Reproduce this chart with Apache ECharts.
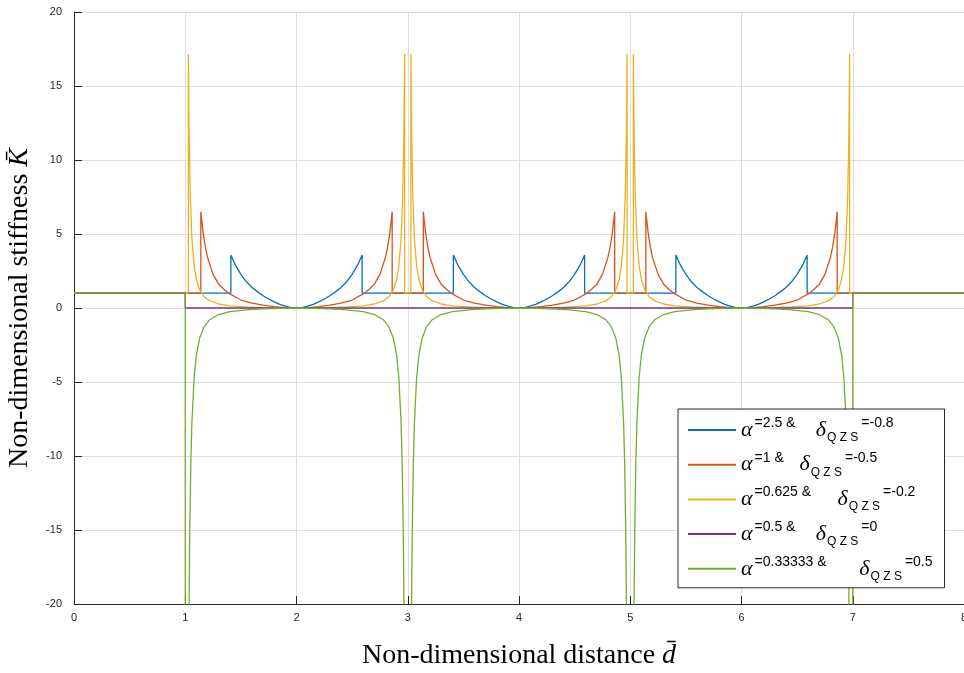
<!DOCTYPE html>
<html>
<head>
<meta charset="utf-8">
<script src="https://cdn.jsdelivr.net/npm/echarts@6/dist/echarts.min.js"></script>
<style>
html,body{margin:0;padding:0;background:#fff;overflow:hidden;}
#chart{width:964px;height:673px;}
</style>
</head>
<body>
<div id="chart"></div>
<script>
// ---- data ----
const alphaLabels = ['2.5', '1', '0.625', '0.5', '0.33333'];
const deltaLabels = ['-0.8', '-0.5', '-0.2', '0', '0.5'];

const blueK = [[0,1],[1,1],[1.41,1],
[1.41,3.58],[1.45,2.91],[1.5,2.27],[1.55,1.77],[1.6,1.39],[1.65,1.09],[1.7,0.83],[1.75,0.61],[1.8,0.41],[1.85,0.25],[1.9,0.12],[1.95,0.03],[2,0],[2.05,0.03],[2.1,0.12],[2.15,0.25],[2.2,0.41],[2.25,0.61],[2.3,0.83],[2.35,1.09],[2.4,1.39],[2.45,1.77],[2.5,2.27],[2.55,2.91],[2.59,3.58],[2.59,1],[3.41,1],
[3.41,3.58],[3.45,2.91],[3.5,2.27],[3.55,1.77],[3.6,1.39],[3.65,1.09],[3.7,0.83],[3.75,0.61],[3.8,0.41],[3.85,0.25],[3.9,0.12],[3.95,0.03],[4,0],[4.05,0.03],[4.1,0.12],[4.15,0.25],[4.2,0.41],[4.25,0.61],[4.3,0.83],[4.35,1.09],[4.4,1.39],[4.45,1.77],[4.5,2.27],[4.55,2.91],[4.59,3.58],[4.59,1],[5.41,1],
[5.41,3.58],[5.45,2.91],[5.5,2.27],[5.55,1.77],[5.6,1.39],[5.65,1.09],[5.7,0.83],[5.75,0.61],[5.8,0.41],[5.85,0.25],[5.9,0.12],[5.95,0.03],[6,0],[6.05,0.03],[6.1,0.12],[6.15,0.25],[6.2,0.41],[6.25,0.61],[6.3,0.83],[6.35,1.09],[6.4,1.39],[6.45,1.77],[6.5,2.27],[6.55,2.91],[6.59,3.58],[6.59,1],[7,1],[8,1]];

const redK = [[0,1],[1,1],[1.14,1],
[1.14,6.5],[1.16,5.13],[1.18,4.15],[1.2,3.43],[1.25,2.27],[1.3,1.61],[1.35,1.25],[1.4,0.95],[1.5,0.54],[1.6,0.33],[1.7,0.2],[1.8,0.09],[1.9,0.03],[2,0],[2.1,0.03],[2.2,0.09],[2.3,0.2],[2.4,0.33],[2.5,0.54],[2.6,0.95],[2.65,1.25],[2.7,1.61],[2.75,2.27],[2.8,3.43],[2.82,4.15],[2.84,5.13],[2.86,6.5],[2.86,1],[3.14,1],
[3.14,6.5],[3.16,5.13],[3.18,4.15],[3.2,3.43],[3.25,2.27],[3.3,1.61],[3.35,1.25],[3.4,0.95],[3.5,0.54],[3.6,0.33],[3.7,0.2],[3.8,0.09],[3.9,0.03],[4,0],[4.1,0.03],[4.2,0.09],[4.3,0.2],[4.4,0.33],[4.5,0.54],[4.6,0.95],[4.65,1.25],[4.7,1.61],[4.75,2.27],[4.8,3.43],[4.82,4.15],[4.84,5.13],[4.86,6.5],[4.86,1],[5.14,1],
[5.14,6.5],[5.16,5.13],[5.18,4.15],[5.2,3.43],[5.25,2.27],[5.3,1.61],[5.35,1.25],[5.4,0.95],[5.5,0.54],[5.6,0.33],[5.7,0.2],[5.8,0.09],[5.9,0.03],[6,0],[6.1,0.03],[6.2,0.09],[6.3,0.2],[6.4,0.33],[6.5,0.54],[6.6,0.95],[6.65,1.25],[6.7,1.61],[6.75,2.27],[6.8,3.43],[6.82,4.15],[6.84,5.13],[6.86,6.5],[6.86,1],[7,1],[8,1]];

const yellowK = [[0,1],[1,1],[1.028,1],
[1.028,17.16],[1.035,11.73],[1.045,7.64],[1.06,4.66],[1.08,2.84],[1.1,1.93],[1.13,1.22],[1.17,0.76],[1.22,0.48],[1.3,0.27],[1.4,0.15],[1.55,0.07],[1.7,0.03],[1.85,0.01],[2,0],[2.15,0.01],[2.3,0.03],[2.45,0.07],[2.6,0.15],[2.7,0.27],[2.78,0.48],[2.83,0.76],[2.87,1.22],[2.9,1.93],[2.92,2.84],[2.94,4.66],[2.955,7.64],[2.965,11.73],[2.972,17.16],[2.972,1],[3.028,1],
[3.028,17.16],[3.035,11.73],[3.045,7.64],[3.06,4.66],[3.08,2.84],[3.1,1.93],[3.13,1.22],[3.17,0.76],[3.22,0.48],[3.3,0.27],[3.4,0.15],[3.55,0.07],[3.7,0.03],[3.85,0.01],[4,0],[4.15,0.01],[4.3,0.03],[4.45,0.07],[4.6,0.15],[4.7,0.27],[4.78,0.48],[4.83,0.76],[4.87,1.22],[4.9,1.93],[4.92,2.84],[4.94,4.66],[4.955,7.64],[4.965,11.73],[4.972,17.16],[4.972,1],[5.028,1],
[5.028,17.16],[5.035,11.73],[5.045,7.64],[5.06,4.66],[5.08,2.84],[5.1,1.93],[5.13,1.22],[5.17,0.76],[5.22,0.48],[5.3,0.27],[5.4,0.15],[5.55,0.07],[5.7,0.03],[5.85,0.01],[6,0],[6.15,0.01],[6.3,0.03],[6.45,0.07],[6.6,0.15],[6.7,0.27],[6.78,0.48],[6.83,0.76],[6.87,1.22],[6.9,1.93],[6.92,2.84],[6.94,4.66],[6.955,7.64],[6.965,11.73],[6.972,17.16],[6.972,1],[7,1],[8,1]];

const purpleK = [[0,1],[1,1],[1,0],[7,0],[7,1],[8,1]];

const greenK = [[0,1],[1,1],[1,-100],
[1.03,-25.2],[1.035,-19.34],[1.04,-15.4],[1.05,-10.52],[1.06,-7.7],[1.08,-4.7],[1.1,-3.19],[1.13,-2.02],[1.17,-1.26],[1.22,-0.79],[1.3,-0.44],[1.4,-0.24],[1.55,-0.12],[1.7,-0.05],[1.85,-0.02],[2,0],[2.15,-0.02],[2.3,-0.05],[2.45,-0.12],[2.6,-0.24],[2.7,-0.44],[2.78,-0.79],[2.83,-1.26],[2.87,-2.02],[2.9,-3.19],[2.92,-4.7],[2.94,-7.7],[2.95,-10.52],[2.96,-15.4],[2.965,-19.34],[2.97,-25.2],
[3.03,-25.2],[3.035,-19.34],[3.04,-15.4],[3.05,-10.52],[3.06,-7.7],[3.08,-4.7],[3.1,-3.19],[3.13,-2.02],[3.17,-1.26],[3.22,-0.79],[3.3,-0.44],[3.4,-0.24],[3.55,-0.12],[3.7,-0.05],[3.85,-0.02],[4,0],[4.15,-0.02],[4.3,-0.05],[4.45,-0.12],[4.6,-0.24],[4.7,-0.44],[4.78,-0.79],[4.83,-1.26],[4.87,-2.02],[4.9,-3.19],[4.92,-4.7],[4.94,-7.7],[4.95,-10.52],[4.96,-15.4],[4.965,-19.34],[4.97,-25.2],
[5.03,-25.2],[5.035,-19.34],[5.04,-15.4],[5.05,-10.52],[5.06,-7.7],[5.08,-4.7],[5.1,-3.19],[5.13,-2.02],[5.17,-1.26],[5.22,-0.79],[5.3,-0.44],[5.4,-0.24],[5.55,-0.12],[5.7,-0.05],[5.85,-0.02],[6,0],[6.15,-0.02],[6.3,-0.05],[6.45,-0.12],[6.6,-0.24],[6.7,-0.44],[6.78,-0.79],[6.83,-1.26],[6.87,-2.02],[6.9,-3.19],[6.92,-4.7],[6.94,-7.7],[6.95,-10.52],[6.96,-15.4],[6.965,-19.34],[6.97,-25.2],[7,-100],[7,1],[8,1]];

const xTicks = [0, 1, 2, 3, 4, 5, 6, 7, 8];
const yTicks = [-20, -15, -10, -5, 0, 5, 10, 15, 20];

// ---- chart ----
const seriesData = [blueK, redK, yellowK, purpleK, greenK];
const colors = ['#0072BD', '#D95319', '#EDB120', '#7E2F8E', '#77AC30'];
const names = alphaLabels.map((a, i) => 'α=' + a + ' & δQZS=' + deltaLabels[i]);

const chart = echarts.init(document.getElementById('chart'), null, {renderer: 'canvas', width: 964, height: 673});

const axisTxt = {color: '#262626', fontSize: 11, fontFamily: 'Liberation Sans, Arial, sans-serif'};
const serif = 'Liberation Serif, Times New Roman, serif';

const option = {
  animation: false,
  backgroundColor: '#ffffff',
  color: colors,
  grid: {left: 74, top: 12, right: 0, bottom: 69, containLabel: false, outerBoundsMode: 'none'},
  xAxis: {
    type: 'value', min: xTicks[0], max: xTicks[xTicks.length - 1], interval: 1,
    name: '{t|Non-dimensional distance }{v|d̄}',
    nameLocation: 'middle', nameGap: 38,
    nameTextStyle: {rich: {
      t: {fontFamily: serif, fontSize: 28, color: '#000'},
      v: {fontFamily: serif, fontSize: 28, fontStyle: 'italic', color: '#000'}
    }},
    axisLine: {show: true, onZero: false, lineStyle: {color: '#262626', width: 1}},
    axisTick: {show: true, inside: true, length: 8, lineStyle: {color: '#262626'}},
    axisLabel: Object.assign({margin: 8}, axisTxt),
    splitLine: {show: true, lineStyle: {color: '#dedede', width: 1}}
  },
  yAxis: {
    type: 'value', min: yTicks[0], max: yTicks[yTicks.length - 1], interval: 5,
    name: '{t|Non-dimensional stiffness }{v|K̄}',
    nameLocation: 'middle', nameGap: 40,
    nameTextStyle: {rich: {
      t: {fontFamily: serif, fontSize: 28, color: '#000'},
      v: {fontFamily: serif, fontSize: 28, fontStyle: 'italic', color: '#000'}
    }},
    axisLine: {show: true, onZero: false, lineStyle: {color: '#262626', width: 1}},
    axisTick: {show: true, inside: true, length: 8, lineStyle: {color: '#262626'}},
    axisLabel: Object.assign({margin: 12}, axisTxt),
    splitLine: {show: true, lineStyle: {color: '#dedede', width: 1}}
  },
  legend: {
    orient: 'vertical', left: 678, top: 409,
    padding: [7, 12, 5, 10],
    backgroundColor: '#ffffff', borderColor: '#262626', borderWidth: 1,
    itemWidth: 48, itemHeight: 2, itemGap: 6.7, icon: 'rect',
    data: names,
    formatter: function (name) {
      const i = names.indexOf(name);
      const a = alphaLabels[i], d = deltaLabels[i];
      return '{a|α}{sp|=' + a + ' &}{g|=' + a + ' &}{d|δ}{sb|Q Z S}{sp2|=' + d + '}';
    },
    textStyle: {
      rich: {
        a: {fontFamily: serif, fontStyle: 'italic', fontSize: 22, color: '#000', lineHeight: 28, verticalAlign: 'middle'},
        sp: {fontFamily: 'Liberation Sans, Arial', fontSize: 14, color: '#000', lineHeight: 28, verticalAlign: 'middle', padding: [0, 0, 14, 2]},
        g: {fontFamily: 'Liberation Sans, Arial', fontSize: 5.6, color: 'rgba(0,0,0,0)', lineHeight: 28, verticalAlign: 'middle', padding: [0, 0, 0, 4]},
        d: {fontFamily: serif, fontStyle: 'italic', fontSize: 22, color: '#000', lineHeight: 28, verticalAlign: 'middle'},
        sb: {fontFamily: 'Liberation Sans, Arial', fontSize: 12, color: '#000', lineHeight: 28, verticalAlign: 'middle', padding: [15, 3, 0, 1]},
        sp2: {fontFamily: 'Liberation Sans, Arial', fontSize: 14, color: '#000', lineHeight: 28, verticalAlign: 'middle', padding: [0, 0, 14, 0]}
      }
    }
  },
  series: seriesData.map((dat, i) => ({
    name: names[i], type: 'line', data: dat,
    symbol: 'none', showSymbol: false, clip: true,
    lineStyle: {color: colors[i], width: 1.3},
    itemStyle: {color: colors[i]},
    emphasis: {disabled: true}
  }))
};
chart.setOption(option);
</script>
</body>
</html>
